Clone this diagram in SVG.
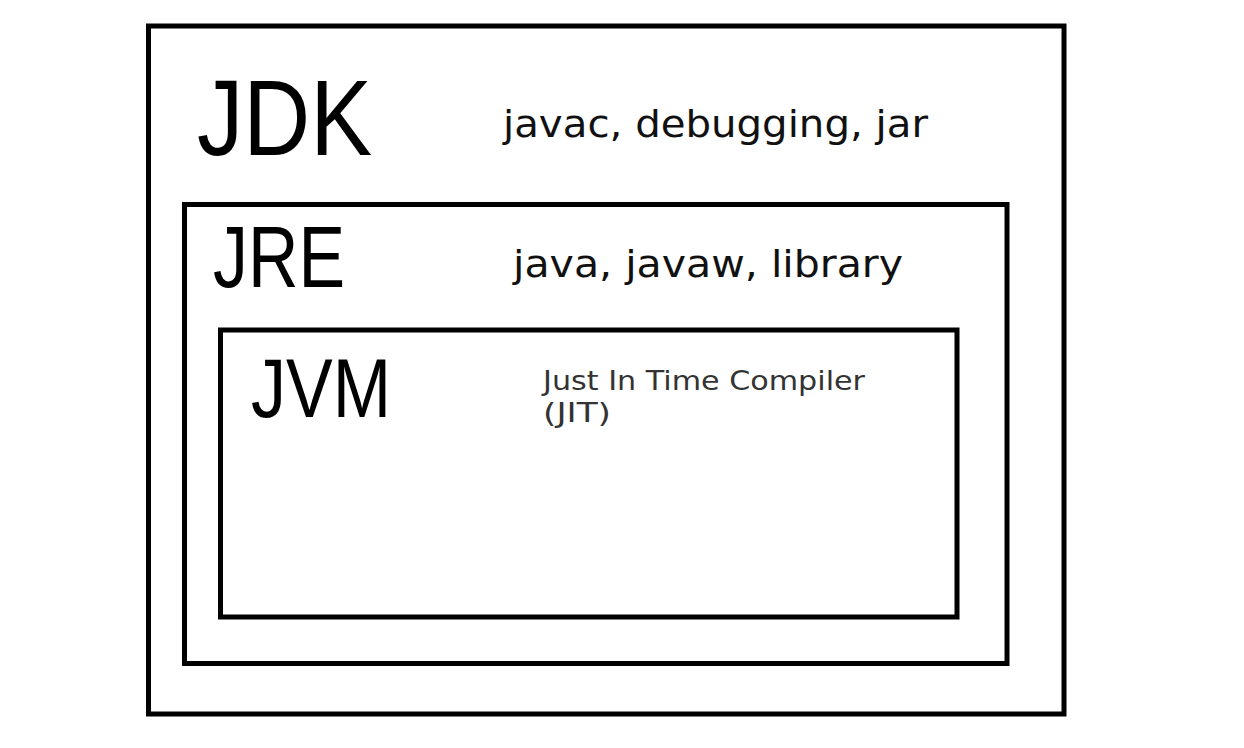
<svg xmlns="http://www.w3.org/2000/svg" width="1244" height="748" viewBox="0 0 1244 748">
<style>
.box{fill:none;stroke:#000;stroke-width:5;stroke-linejoin:miter}
.title{font-family:"Liberation Sans",Arial,sans-serif;fill:#000}
.lbl{font-family:"DejaVu Sans",Verdana,sans-serif;fill:#111}
.small{font-family:"DejaVu Sans",Verdana,sans-serif;fill:#333}
</style>
<rect width="1244" height="748" fill="#fff"/>
<g id="jdk">
<rect class="box" x="148.5" y="26" width="915.5" height="688"/>
<text class="title" x="197" y="155" font-size="107" textLength="175" lengthAdjust="spacingAndGlyphs">JDK</text>
<text class="lbl" x="503" y="137" font-size="38" textLength="425" lengthAdjust="spacingAndGlyphs">javac, debugging, jar</text>
</g>
<g id="jre">
<rect class="box" x="184.5" y="204.5" width="822.5" height="459"/>
<text class="title" x="213" y="287" font-size="88" textLength="132" lengthAdjust="spacingAndGlyphs">JRE</text>
<text class="lbl" x="513" y="277" font-size="38" textLength="390" lengthAdjust="spacingAndGlyphs">java, javaw, library</text>
</g>
<g id="jvm">
<rect class="box" x="220.5" y="330" width="736.5" height="287"/>
<text class="title" x="251" y="417" font-size="83" textLength="140" lengthAdjust="spacingAndGlyphs">JVM</text>
<text class="small" x="543" y="390" font-size="27" textLength="322" lengthAdjust="spacingAndGlyphs">Just In Time Compiler</text>
<text class="small" x="543" y="422" font-size="27" textLength="68" lengthAdjust="spacingAndGlyphs">(JIT)</text>
</g>
<g id="connectors"/>
</svg>
